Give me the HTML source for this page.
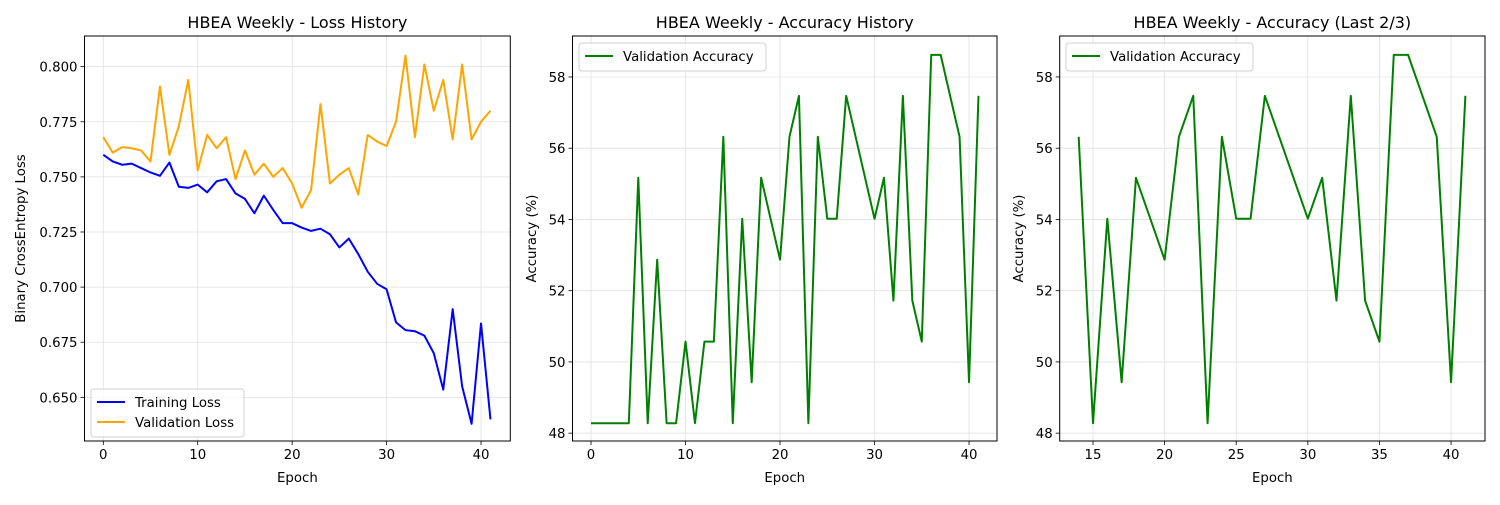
<!DOCTYPE html>
<html><head><meta charset="utf-8"><style>
body{margin:0;background:#fff;font-family:"Liberation Sans","DejaVu Sans",sans-serif;}
svg text{font-family:"DejaVu Sans","Liberation Sans",sans-serif;fill:#000;}
</style></head><body>
<svg id="fig" width="1500" height="500" xmlns="http://www.w3.org/2000/svg"></svg>
<script>
const epochs = Array.from({length:42},(_,i)=>i);
const trainLoss = [0.760,0.757,0.7555,0.756,0.754,0.752,0.7505,0.7565,0.7455,0.745,0.7465,0.743,0.748,0.749,0.7425,0.740,0.7335,0.7415,0.735,0.729,0.729,0.727,0.7255,0.7265,0.724,0.718,0.722,0.715,0.707,0.7015,0.699,0.684,0.6805,0.680,0.678,0.670,0.6535,0.690,0.655,0.638,0.6835,0.640];
const valLoss = [0.768,0.761,0.7635,0.763,0.762,0.757,0.791,0.760,0.773,0.794,0.753,0.769,0.763,0.768,0.749,0.762,0.751,0.756,0.750,0.754,0.747,0.736,0.744,0.783,0.747,0.751,0.754,0.742,0.769,0.766,0.764,0.775,0.805,0.768,0.801,0.780,0.794,0.767,0.801,0.767,0.775,0.780];
const valAcc = [48.28,48.28,48.28,48.28,48.28,55.17,48.28,52.87,48.28,48.28,50.57,48.28,50.57,50.57,56.32,48.28,54.02,49.43,55.17,54.02,52.87,56.32,57.47,48.28,56.32,54.02,54.02,57.47,56.32,55.17,54.02,55.17,51.72,57.47,51.72,50.57,58.62,58.62,57.47,56.32,49.43,57.47];
const lossTicks = [0.650,0.675,0.700,0.725,0.750,0.775,0.800];
const accTicks = [48,50,52,54,56,58];
const xTicks1 = [0,10,20,30,40];
const xTicks3 = [15,20,25,30,35,40];
const startLast = 14;

const NS="http://www.w3.org/2000/svg";
const fig=document.getElementById('fig');
function el(tag,attrs,parent){const e=document.createElementNS(NS,tag);for(const k in attrs)e.setAttribute(k,attrs[k]);(parent||fig).appendChild(e);return e;}

function panel(o){
  const g=el('g',{});
  
  
  const L=o.box[0],T=o.box[1],R=o.box[2],B=o.box[3];
  const sx=v=>L+(v-o.xr[0])/(o.xr[1]-o.xr[0])*(R-L);
  const sy=v=>B-(v-o.yr[0])/(o.yr[1]-o.yr[0])*(B-T);
  o.xt.forEach(t=>{const x=sx(t);
    el('line',{x1:x,x2:x,y1:T,y2:B,stroke:'#e0e0e0','stroke-width':0.8},g);
    el('line',{x1:x,x2:x,y1:B,y2:B+4,stroke:'#000','stroke-width':0.8},g);
    const tx=el('text',{x:x,y:B+18,'font-size':13.3,'text-anchor':'middle'},g);tx.textContent=t;
    
    });
  o.yt.forEach(t=>{const y=sy(t);
    el('line',{x1:L,x2:R,y1:y,y2:y,stroke:'#e0e0e0','stroke-width':0.8},g);
    el('line',{x1:L-4,x2:L,y1:y,y2:y,stroke:'#000','stroke-width':0.8},g);
    const tx=el('text',{x:L-7,y:y+5,'font-size':13.3,'text-anchor':'end'},g);tx.textContent=o.yfmt(t);
    
    });
  o.series.forEach(s=>{
    const pts=s.x.map((xv,i)=>sx(xv)+','+sy(s.y[i])).join(' ');
    const p=el('polyline',{points:pts,fill:'none',stroke:s.color,'stroke-width':2,'stroke-linejoin':'round'},g);
    
    
  });
  el('rect',{x:L,y:T,width:R-L,height:B-T,fill:'none',stroke:'#000','stroke-width':1},g);
  const ti=el('text',{x:(L+R)/2,y:T-8,'font-size':16,'text-anchor':'middle'},g);ti.textContent=o.title;
  
  
  const xl=el('text',{x:(L+R)/2,y:B+41,'font-size':13.3,'text-anchor':'middle'},g);xl.textContent='Epoch';
  
  
  const yx=o.ylx, yy=(T+B)/2;
  const yl=el('text',{x:yx,y:yy,'font-size':13.3,'text-anchor':'middle',transform:`rotate(-90 ${yx} ${yy})`},g);yl.textContent=o.ylabel;
  
  
  const lg=el('g',{},g);
  
  
  const [lx,ly,lw]=o.leg;
  const lh=8+o.series.length*20;
  el('rect',{x:lx,y:ly,width:lw,height:lh,rx:3,fill:'#fff','fill-opacity':0.8,stroke:'#d0d0d0'},lg);
  o.series.forEach((s,i)=>{const yy=ly+13+i*20;
    el('line',{x1:lx+6,x2:lx+34,y1:yy,y2:yy,stroke:s.color,'stroke-width':2},lg);
    const t=el('text',{x:lx+44,y:yy+5,'font-size':13.3},lg);t.textContent=s.label;
    
    });
}

panel({name:'loss-chart',box:[84.5,36,510.3,441],xr:[-1.99,43.1],yr:[0.6302,0.8139],xt:xTicks1,yt:lossTicks,yfmt:t=>t.toFixed(3),
  title:'HBEA Weekly - Loss History',ylabel:'Binary CrossEntropy Loss',ylx:25,leg:[91,389,153],
  series:[{x:epochs,y:trainLoss,color:'#0000ff',label:'Training Loss',dn:'training-loss-line'},
          {x:epochs,y:valLoss,color:'#ffa500',label:'Validation Loss',dn:'validation-loss-line'}]});
panel({name:'accuracy-chart',box:[572.5,36,997,441],xr:[-1.96,42.96],yr:[47.78,59.15],xt:xTicks1,yt:accTicks,yfmt:t=>t,
  title:'HBEA Weekly - Accuracy History',ylabel:'Accuracy (%)',ylx:536,leg:[579,43,187],
  series:[{x:epochs,y:valAcc,color:'#008000',label:'Validation Accuracy',dn:'validation-accuracy-line'}]});
panel({name:'accuracy-last-chart',box:[1059.7,36,1485,441],xr:[12.675,42.37],yr:[47.78,59.15],xt:xTicks3,yt:accTicks,yfmt:t=>t,
  title:'HBEA Weekly - Accuracy (Last 2/3)',ylabel:'Accuracy (%)',ylx:1023,leg:[1066,43,187],
  series:[{x:epochs.slice(startLast),y:valAcc.slice(startLast),color:'#008000',label:'Validation Accuracy',dn:'validation-accuracy-last-line'}]});
</script>
</body></html>
